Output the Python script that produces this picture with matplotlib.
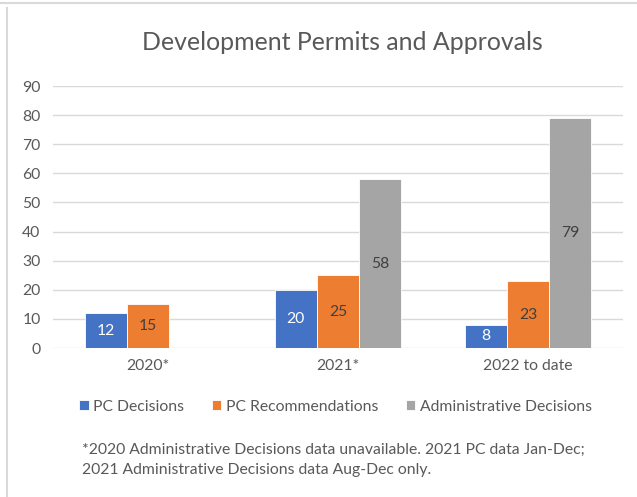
import numpy as np
import matplotlib.pyplot as plt
from matplotlib.lines import Line2D

categories = ['2020*', '2021*', '2022 to date']
pc_decisions = [12, 20, 8]
pc_recommendations = [15, 25, 23]
admin_decisions = [np.nan, 58, 79]  # 2020 unavailable

series = [
    ('PC Decisions', pc_decisions, '#4472C4', 'white'),
    ('PC Recommendations', pc_recommendations, '#ED7D31', '#404040'),
    ('Administrative Decisions', admin_decisions, '#A5A5A5', '#404040'),
]

plt.rcParams['font.family'] = ['Lato', 'DejaVu Sans']
text_color = '#595959'
fs = 11.3

fig = plt.figure(figsize=(6.37, 4.97), dpi=100)
ax = fig.add_axes([53 / 637, 1 - 348 / 497, 570 / 637, 262 / 497])

x = np.arange(len(categories))
width = 0.222
handles = []
for i, (name, vals, color, lab_color) in enumerate(series):
    pos = x + (i - 1) * width
    bars = ax.bar(pos, vals, width, color=color, edgecolor='white', linewidth=0.6, label=name, zorder=3)
    handles.append(bars)
    for p, v in zip(pos, vals):
        if not np.isnan(v):
            ax.text(p, v / 2, f'{v:g}', ha='center', va='center', color=lab_color, fontsize=fs, zorder=4)

ax.set_xlim(-0.5, 2.5)
ax.set_ylim(0, 90)
ax.set_yticks(range(0, 91, 10))
ax.set_xticks(x)
ax.set_xticklabels(categories)
ax.grid(axis='y', color='#d9d9d9', linewidth=1, zorder=0)
for s in ax.spines.values():
    s.set_visible(False)
ax.tick_params(axis='both', length=0, labelsize=fs, colors=text_color)
ax.tick_params(axis='y', pad=9)
ax.tick_params(axis='x', pad=8)

fig.text(0.538, 1 - 43 / 497, 'Development Permits and Approvals', ha='center', va='center',
         fontsize=17.9, color=text_color)

fig.legend(handles=handles, loc='center', bbox_to_anchor=(0.527, 1 - 407 / 497), ncol=3,
           frameon=False, fontsize=fs, labelcolor=text_color, handlelength=0.6, handleheight=0.6,
           handletextpad=0.3, columnspacing=1.75)

fig.text(82 / 637, 1 - 450 / 497, '*2020 Administrative Decisions data unavailable. 2021 PC data Jan-Dec;',
         ha='left', va='center', fontsize=fs, color=text_color)
fig.text(82 / 637, 1 - 470 / 497, '2021 Administrative Decisions data Aug-Dec only.',
         ha='left', va='center', fontsize=fs, color=text_color)

# page frame lines from the screenshot
fig.add_artist(Line2D([0, 1], [1 - 2.5 / 497] * 2, color='#d9d9d9', linewidth=1.5))
fig.add_artist(Line2D([7 / 637] * 2, [0, 1 - 8 / 497], color='#d9d9d9', linewidth=1.5))

fig.savefig('out.png', dpi=100)
